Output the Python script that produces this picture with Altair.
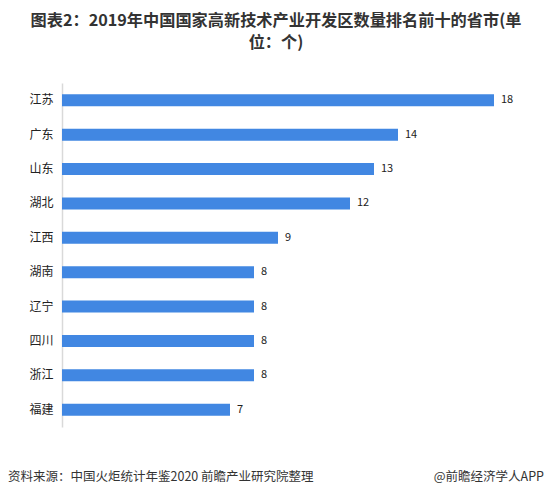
import altair as alt
import pandas as pd

provinces = ["江苏", "广东", "山东", "湖北", "江西", "湖南", "辽宁", "四川", "浙江", "福建"]
counts = [18, 14, 13, 12, 9, 8, 8, 8, 8, 7]

title_lines = ["图表2：2019年中国国家高新技术产业开发区数量排名前十的省市(单", "位：个)"]
source_text = "资料来源：中国火炬统计年鉴2020 前瞻产业研究院整理"
brand_text = "@前瞻经济学人APP"

FONT = "Noto Sans CJK SC"
W, H = 432, 344

df = pd.DataFrame({"province": provinces, "count": counts})

base = alt.Chart(df)

bars = base.mark_bar(color="#4187E2", height=12).encode(
    y=alt.Y("province:N", sort=provinces,
            scale=alt.Scale(paddingInner=0.65, paddingOuter=0.33),
            axis=alt.Axis(title=None, ticks=False, domainColor="#d9d9d9", domainWidth=1.5,
                          labelFont=FONT, labelFontSize=12, labelColor="#222222",
                          labelPadding=9, grid=False)),
    x=alt.X("count:Q", scale=alt.Scale(domain=[0, 18], nice=False), axis=None),
)

values = base.mark_text(align="left", baseline="middle", dx=7, font=FONT,
                        fontSize=11, color="#222222").encode(
    y=alt.Y("province:N", sort=provinces),
    x=alt.X("count:Q"),
    text=alt.Text("count:Q"),
)

def label(text, x, y, size, weight="normal", align="center", color="#333333"):
    return alt.Chart(pd.DataFrame({"t": [text]})).mark_text(
        align=align, baseline="middle", font=FONT, fontSize=size,
        fontWeight=weight, color=color,
    ).encode(x=alt.value(x), y=alt.value(y), text="t:N")

t1 = label(title_lines[0], 214, -62, 16.2, "bold")
t2 = label(title_lines[1], 214, -40, 16.2, "bold")
f1 = label(source_text, -54, 394, 12.5, align="left")
f2 = label(brand_text, 482, 394, 12.5, align="right")

chart = alt.layer(bars, values, t1, t2, f1, f2).properties(
    width=W, height=H,
    autosize=alt.AutoSizeParams(type="none"),
    padding={"left": 54, "top": 75, "right": 50, "bottom": 60},
).configure(background="white").configure_view(stroke=None)

chart.save("out.html", embed_options={"renderer": "svg", "actions": False})
